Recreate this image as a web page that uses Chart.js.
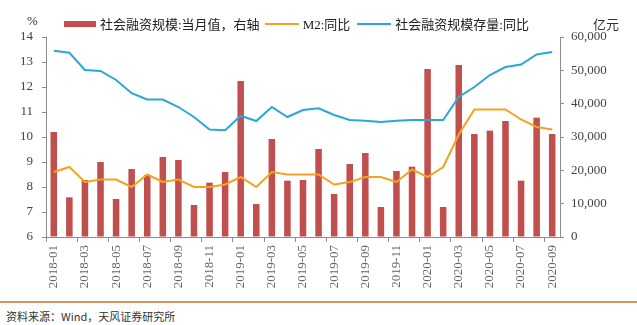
<!DOCTYPE html>
<html>
<head>
<meta charset="utf-8">
<script src="https://cdn.jsdelivr.net/npm/chart.js@4"></script>
<style>
  body { margin: 0; width: 637px; height: 325px; background: #fff; position: relative; overflow: hidden; font-family: "Liberation Serif", "Noto Sans CJK SC", serif; }
  #wrap { position: absolute; left: 0; top: 0; width: 637px; height: 300px; }
  .lbl { position: absolute; font-size: 13px; color: #333; white-space: nowrap; }
  .legend { position: absolute; top: 14px; left: 64px; font-size: 13px; color: #222; display: flex; align-items: center; white-space: nowrap; }
  .legend span.t { margin-right: 5px; }
  .sw-bar { display: inline-block; width: 32px; height: 6px; background: #C0504D; margin-right: 4px; }
  .sw-line { display: inline-block; width: 34px; height: 2px; margin-right: 4px; }
  #rule { position: absolute; left: 0; top: 301px; width: 637px; height: 2px; background: #D99559; }
  #src { position: absolute; left: 6px; top: 308px; font-family: "Noto Sans CJK SC", sans-serif; font-size: 11px; color: #333; }
</style>
</head>
<body>
<div id="wrap"><canvas id="c" width="637" height="300"></canvas></div>
<div class="lbl" style="left:27px;top:13px;">%</div>
<div class="lbl" style="left:593px;top:14px;font-family:'Noto Sans CJK SC',serif;">亿元</div>
<div class="legend">
  <span class="sw-bar"></span><span class="t">社会融资规模:当月值，右轴</span>
  <span class="sw-line" style="background:#F5A21E"></span><span class="t">M2:同比</span>
  <span class="sw-line" style="background:#2AA7D6;margin-left:2px"></span><span class="t">社会融资规模存量:同比</span>
</div>
<div id="rule"></div>
<div id="src">资料来源：Wind，天风证券研究所</div>
<script>
const months = ['2018-01','2018-02','2018-03','2018-04','2018-05','2018-06','2018-07','2018-08','2018-09','2018-10','2018-11','2018-12',
  '2019-01','2019-02','2019-03','2019-04','2019-05','2019-06','2019-07','2019-08','2019-09','2019-10','2019-11','2019-12',
  '2020-01','2020-02','2020-03','2020-04','2020-05','2020-06','2020-07','2020-08','2020-09'];
// 社会融资规模:当月值 (亿元, right axis)
const tsfMonthly = [31500, 11900, 17100, 22500, 11400, 20400, 18600, 24000, 23100, 9600, 16300, 19500,
  46800, 9900, 29400, 16900, 17100, 26400, 12900, 21900, 25200, 9000, 19800, 21100,
  50400, 9000, 51600, 30900, 31900, 34800, 16900, 35800, 30900];
// M2:同比 (%)
const m2Yoy = [8.6, 8.8, 8.2, 8.3, 8.3, 8.0, 8.5, 8.2, 8.3, 8.0, 8.0, 8.1,
  8.4, 8.0, 8.6, 8.5, 8.5, 8.5, 8.1, 8.2, 8.4, 8.4, 8.2, 8.7,
  8.4, 8.8, 10.1, 11.1, 11.1, 11.1, 10.7, 10.4, 10.3];
// 社会融资规模存量:同比 (%)
const tsfStockYoy = [13.45, 13.37, 12.68, 12.64, 12.28, 11.75, 11.5, 11.5, 11.2, 10.8, 10.3, 10.27,
  10.85, 10.64, 11.2, 10.8, 11.08, 11.15, 10.88, 10.68, 10.65, 10.6, 10.65, 10.68,
  10.68, 10.68, 11.6, 12.0, 12.48, 12.8, 12.9, 13.3, 13.4];
const leftTicks = [6, 7, 8, 9, 10, 11, 12, 13, 14];
const rightTicks = [0, 10000, 20000, 30000, 40000, 50000, 60000];

const axisGray = '#8c8c8c';
const tickFont = { family: "'Liberation Serif', serif", size: 13 };

new Chart(document.getElementById('c'), {
  data: {
    labels: months,
    datasets: [
      { type: 'line', label: 'M2:同比', data: m2Yoy, yAxisID: 'y', borderColor: '#F5A21E', borderWidth: 2, pointRadius: 0, tension: 0, order: 1 },
      { type: 'line', label: '社会融资规模存量:同比', data: tsfStockYoy, yAxisID: 'y', borderColor: '#2AA7D6', borderWidth: 2, pointRadius: 0, tension: 0, order: 2 },
      { type: 'bar', label: '社会融资规模:当月值，右轴', data: tsfMonthly, yAxisID: 'y1', backgroundColor: '#C0504D', barPercentage: 0.42, categoryPercentage: 1, order: 3 }
    ]
  },
  options: {
    responsive: false,
    animation: false,
    layout: { padding: { top: 37, left: 0, right: 0, bottom: 0 } },
    plugins: { legend: { display: false }, tooltip: { enabled: false } },
    scales: {
      x: {
        offset: true,
        afterFit: s => { s.height = 63; },
        border: { color: axisGray, width: 1 },
        grid: { drawOnChartArea: false, drawTicks: true, tickLength: 5, offset: true,
          color: ctx => (ctx.index % 2 === 0 ? axisGray : 'rgba(0,0,0,0)') },
        ticks: { autoSkip: false, maxRotation: 90, minRotation: 90, padding: 3, color: '#666', font: tickFont,
          callback: (v, i) => (i % 2 === 0 ? months[i] : '') }
      },
      y: {
        position: 'left', min: 6, max: 14,
        afterFit: s => { s.width = 46; },
        afterBuildTicks: s => { s.ticks = leftTicks.map(v => ({ value: v })); },
        border: { color: axisGray, width: 1 },
        grid: { drawOnChartArea: false, drawTicks: true, tickLength: 4, color: axisGray },
        ticks: { padding: 9, color: '#444', font: tickFont }
      },
      y1: {
        position: 'right', min: 0, max: 60000,
        afterFit: s => { s.width = 77; },
        afterBuildTicks: s => { s.ticks = rightTicks.map(v => ({ value: v })); },
        border: { color: axisGray, width: 1 },
        grid: { drawOnChartArea: false, drawTicks: true, tickLength: 4, color: axisGray },
        ticks: { padding: 7, color: '#444', font: tickFont, callback: v => v.toLocaleString('en-US') }
      }
    }
  }
});
</script>
</body>
</html>
